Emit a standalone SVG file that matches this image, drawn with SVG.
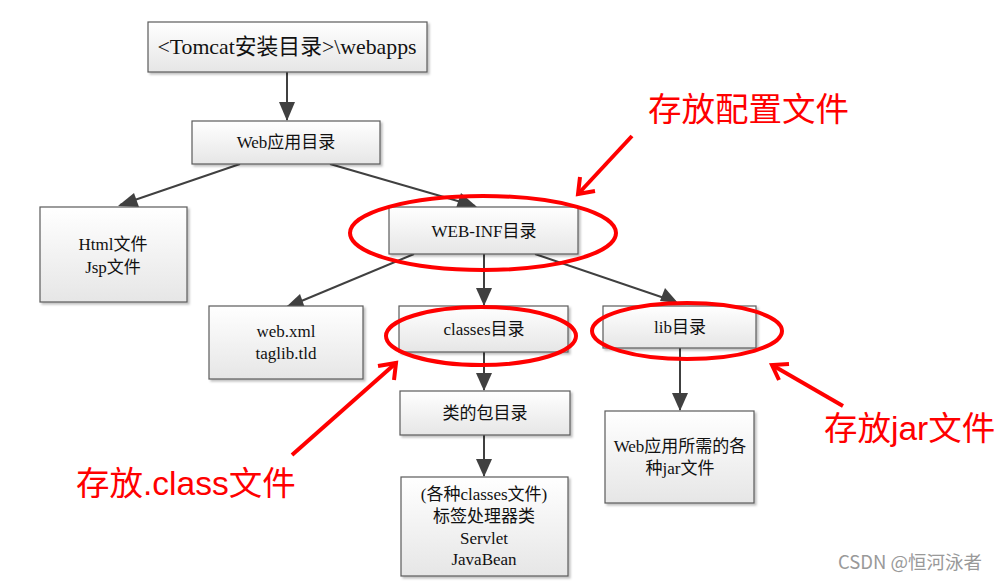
<svg xmlns="http://www.w3.org/2000/svg" width="1004" height="581" viewBox="0 0 1004 581">
<defs>
<linearGradient id="g" x1="0" y1="0" x2="0" y2="1">
<stop offset="0" stop-color="#ffffff"/>
<stop offset="1" stop-color="#e6e6e6"/>
</linearGradient>
<filter id="sh" x="-10%" y="-10%" width="130%" height="130%">
<feDropShadow dx="2" dy="2" stdDeviation="1.2" flood-color="#000" flood-opacity="0.25"/>
</filter>
</defs>
<style>
.box{fill:url(#g);stroke:#5a5a5a;stroke-width:1.2;filter:url(#sh)}
.t{font-family:"Liberation Serif","Noto Sans CJK SC",serif;font-size:17px;fill:#111;text-anchor:middle}
.con{stroke:#404040;stroke-width:2;fill:none}
.ell{fill:none;stroke:#ff0000;stroke-width:4}
.red{font-family:"Liberation Sans","Noto Sans CJK SC",sans-serif;font-size:33.5px;fill:#ff0000}
.ra{stroke:#ff0000;stroke-width:4;fill:none}
</style>
<rect width="1004" height="581" fill="#ffffff"/>

<g id="connectors">
<line class="con" x1="287" y1="72" x2="287" y2="120"/>
<line class="con" x1="240" y1="164" x2="120" y2="205"/>
<line class="con" x1="330" y1="164" x2="475" y2="206"/>
<line class="con" x1="414" y1="254" x2="287" y2="307"/>
<line class="con" x1="484" y1="254" x2="484" y2="305"/>
<line class="con" x1="535" y1="254" x2="676" y2="302"/>
<line class="con" x1="484" y1="352" x2="484" y2="390"/>
<line class="con" x1="484" y1="435" x2="484" y2="476"/>
<line class="con" x1="680" y1="348" x2="680" y2="410"/>
</g>
<g id="arrowheads" fill="#404040">
<polygon points="287,121 279,102 295,102"/>
<polygon points="118,206 134,193 139,207"/>
<polygon points="477,207 456,208 461,193"/>
<polygon points="285,308 300,294 305,308"/>
<polygon points="484,306 476,288 492,288"/>
<polygon points="678,303 660,301 665,288"/>
<polygon points="484,391 476,373 492,373"/>
<polygon points="484,477 476,459 492,459"/>
<polygon points="680,411 672,393 688,393"/>
</g>

<g id="n-tomcat"><rect class="box" x="148" y="22" width="279" height="50"/>
<text class="t" x="287" y="54" style="font-size:21.8px">&lt;Tomcat安装目录&gt;\webapps</text></g>
<g id="n-web"><rect class="box" x="192" y="121" width="188" height="43"/>
<text class="t" x="286" y="148">Web应用目录</text></g>
<g id="n-html"><rect class="box" x="40" y="207" width="147" height="95"/>
<text class="t" x="113" y="250">Html文件</text><text class="t" x="113" y="273">Jsp文件</text></g>
<g id="n-webinf"><rect class="box" x="389" y="207" width="189" height="47"/>
<text class="t" x="484" y="237">WEB-INF目录</text></g>
<g id="n-webxml"><rect class="box" x="209" y="306" width="154" height="73"/>
<text class="t" x="286" y="337">web.xml</text><text class="t" x="286" y="359">taglib.tld</text></g>
<g id="n-classes"><rect class="box" x="399" y="306" width="169" height="46"/>
<text class="t" x="484" y="335">classes目录</text></g>
<g id="n-lib"><rect class="box" x="603" y="306" width="153" height="42"/>
<text class="t" x="680" y="333">lib目录</text></g>
<g id="n-pkg"><rect class="box" x="400" y="391" width="170" height="44"/>
<text class="t" x="485" y="419">类的包目录</text></g>
<g id="n-cls"><rect class="box" x="401" y="477" width="167" height="99"/>
<text class="t" x="484" y="500">(各种classes文件)</text>
<text class="t" x="484" y="522">标签处理器类</text>
<text class="t" x="484" y="544">Servlet</text>
<text class="t" x="484" y="565">JavaBean</text></g>
<g id="n-jar"><rect class="box" x="605" y="411" width="149" height="92"/>
<text class="t" x="680" y="452">Web应用所需的各</text>
<text class="t" x="680" y="474">种jar文件</text></g>

<g id="annotations">
<ellipse class="ell" cx="483" cy="233" rx="133" ry="37"/>
<ellipse class="ell" cx="481" cy="336" rx="95" ry="29"/>
<ellipse class="ell" cx="687" cy="331" rx="95" ry="28"/>
<line class="ra" x1="632" y1="136" x2="579" y2="193"/>
<polyline class="ra" points="580,177 578,194 595,191"/>
<line class="ra" x1="292" y1="455" x2="396" y2="363"/>
<polyline class="ra" points="378,366 396,363 394,380"/>
<line class="ra" x1="843" y1="406" x2="772" y2="365"/>
<polyline class="ra" points="779,380 772,365 789,364"/>
<text class="red" x="648" y="121">存放配置文件</text>
<text class="red" x="76" y="495">存放.class文件</text>
<text class="red" x="824" y="440">存放jar文件</text>
<text x="838" y="569" style="font-family:'Noto Sans CJK SC','Liberation Sans',sans-serif;font-size:18.5px;fill:#999">CSDN @恒河泳者</text>
</g>
</svg>
